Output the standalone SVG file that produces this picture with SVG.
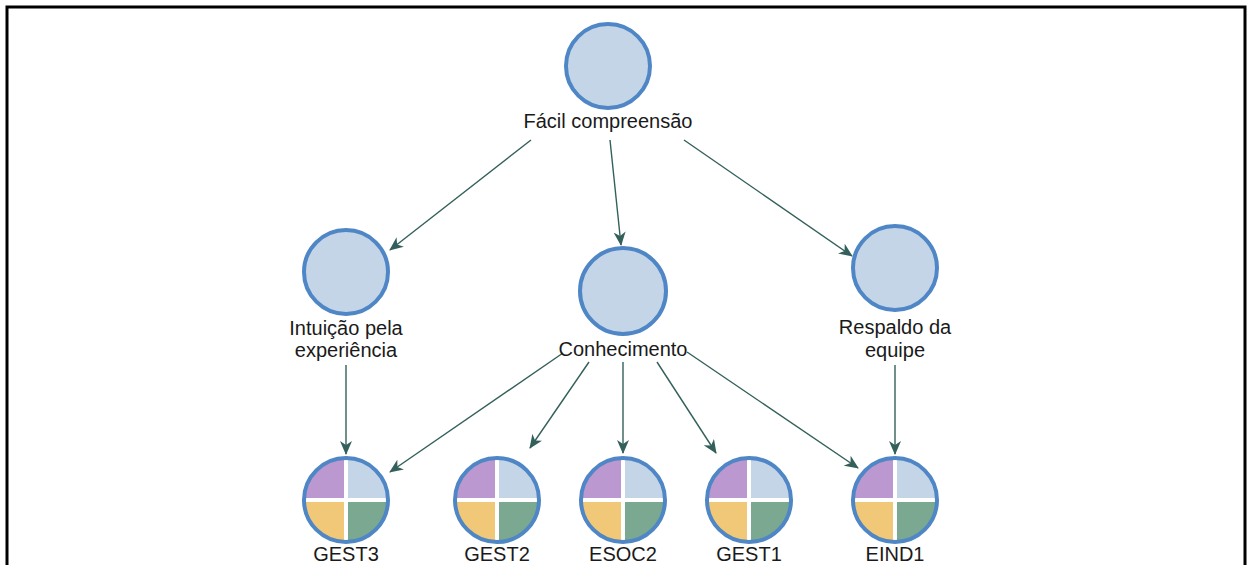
<svg xmlns="http://www.w3.org/2000/svg" width="1248" height="565" viewBox="0 0 1248 565">
  <style>
    .frame { fill: #ffffff; stroke: #000000; stroke-width: 3; }
    .concept { fill: #c5d5e8; stroke: #4f86c6; stroke-width: 4; }
    .ring { fill: none; stroke: #4f86c6; stroke-width: 4; }
    .q1 { fill: #bb98d0; }
    .q2 { fill: #c5d5e8; }
    .q3 { fill: #f0c878; }
    .q4 { fill: #7aa890; }
    .label { font-family: "Liberation Sans", Arial, sans-serif; font-size: 20px; fill: #1a1a1a; text-anchor: middle; }
    .edge { stroke: #33605a; stroke-width: 1.4; fill: none; marker-end: url(#arrow); }
  </style>
  <defs>
    <marker id="arrow" viewBox="0 0 14 12" refX="13" refY="6" markerWidth="14" markerHeight="12" markerUnits="userSpaceOnUse" orient="auto">
      <path d="M0,0 L14,6 L0,12 L4,6 z" fill="#33605a"/>
    </marker>
    <!-- four-quadrant indicator, drawn around the origin -->
    <g id="quad">
      <clipPath id="disc"><circle cx="0" cy="0" r="41"/></clipPath>
      <g clip-path="url(#disc)">
        <rect class="q1" x="-42" y="-42" width="42" height="42"/>
        <rect class="q2" x="0" y="-42" width="42" height="42"/>
        <rect class="q3" x="-42" y="0" width="42" height="42"/>
        <rect class="q4" x="0" y="0" width="42" height="42"/>
        <rect x="-42" y="-2" width="84" height="4" fill="#ffffff"/>
        <rect x="-2" y="-42" width="4" height="84" fill="#ffffff"/>
      </g>
      <circle class="ring" cx="0" cy="0" r="42"/>
    </g>
  </defs>

  <rect class="frame" x="7" y="7" width="1238" height="580"/>

  <g id="connectors">
    <line class="edge" x1="531" y1="140" x2="390" y2="250"/>
    <line class="edge" x1="610" y1="140" x2="621" y2="245"/>
    <line class="edge" x1="684" y1="140" x2="852" y2="256"/>
    <line class="edge" x1="346" y1="365" x2="346" y2="454"/>
    <line class="edge" x1="563" y1="353" x2="390" y2="472"/>
    <line class="edge" x1="589" y1="362" x2="530" y2="448"/>
    <line class="edge" x1="623" y1="362" x2="623" y2="453"/>
    <line class="edge" x1="657" y1="362" x2="716" y2="453"/>
    <line class="edge" x1="687" y1="352" x2="858" y2="468"/>
    <line class="edge" x1="895" y1="365" x2="895" y2="454"/>
  </g>

  <g id="facil-compreensao">
    <circle class="concept" cx="608" cy="66" r="42"/>
    <text class="label" x="608" y="128">Fácil compreensão</text>
  </g>

  <g id="intuicao">
    <circle class="concept" cx="346" cy="272" r="42"/>
    <text class="label" x="346" y="335">Intuição pela</text>
    <text class="label" x="346" y="357">experiência</text>
  </g>

  <g id="conhecimento">
    <circle class="concept" cx="623" cy="291" r="43"/>
    <text class="label" x="623" y="356">Conhecimento</text>
  </g>

  <g id="respaldo">
    <circle class="concept" cx="895" cy="268" r="42"/>
    <text class="label" x="895" y="334">Respaldo da</text>
    <text class="label" x="895" y="357">equipe</text>
  </g>

  <g id="gest3">
    <use href="#quad" x="346" y="500"/>
    <text class="label" x="346" y="561">GEST3</text>
  </g>

  <g id="gest2">
    <use href="#quad" x="497" y="500"/>
    <text class="label" x="497" y="561">GEST2</text>
  </g>

  <g id="esoc2">
    <use href="#quad" x="623" y="500"/>
    <text class="label" x="623" y="561">ESOC2</text>
  </g>

  <g id="gest1">
    <use href="#quad" x="749" y="500"/>
    <text class="label" x="749" y="561">GEST1</text>
  </g>

  <g id="eind1">
    <use href="#quad" x="895" y="500"/>
    <text class="label" x="895" y="561">EIND1</text>
  </g>
</svg>
